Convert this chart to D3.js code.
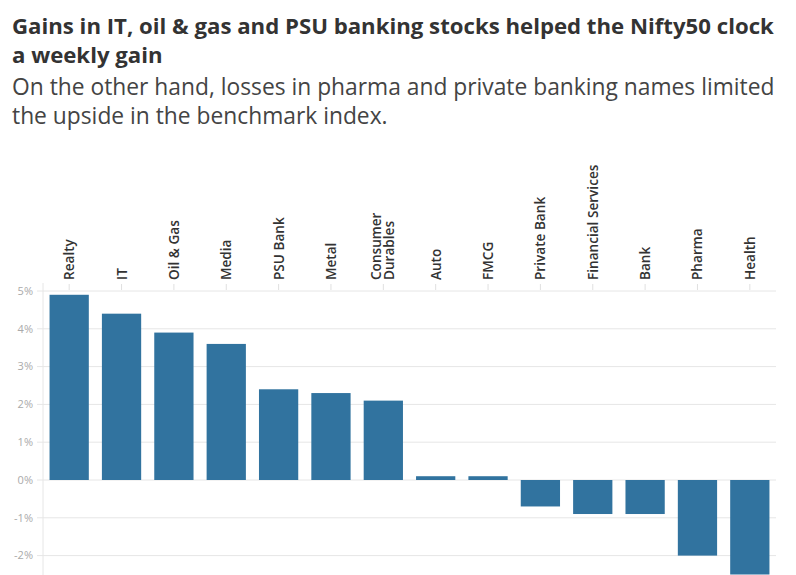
<!DOCTYPE html>
<html>
<head>
<meta charset="utf-8">
<script src="https://cdn.jsdelivr.net/npm/d3@7"></script>
<style>
  body { margin: 0; background: #fff; font-family: "Source Sans Pro", "Open Sans", sans-serif; }
</style>
</head>
<body>
<script>
var sectors = ['Realty', 'IT', 'Oil & Gas', 'Media', 'PSU Bank', 'Metal', 'Consumer Durables',
  'Auto', 'FMCG', 'Private Bank', 'Financial Services', 'Bank', 'Pharma', 'Health'];
var changes = [4.9, 4.4, 3.9, 3.6, 2.4, 2.3, 2.1, 0.1, 0.1, -0.7, -0.9, -0.9, -2.0, -2.5];
var yTicks = [-2, -1, 0, 1, 2, 3, 4, 5];
var titleLines = ['Gains in IT, oil & gas and PSU banking stocks helped the Nifty50 clock', 'a weekly gain'];
var subtitleLines = ['On the other hand, losses in pharma and private banking names limited', 'the upside in the benchmark index.'];

var width = 796, height = 575;
var svg = d3.select('body').append('svg')
  .attr('width', width)
  .attr('height', height);

// heading
svg.selectAll('text.title')
  .data(titleLines)
  .enter()
  .append('text')
  .attr('class', 'title')
  .attr('x', 12)
  .attr('y', function(d, i){ return 34 + i * 28.5; })
  .style('font-size', '22.2px')
  .style('font-weight', 'bold')
  .style('fill', '#333')
  .text(function(d){ return d; });

svg.selectAll('text.sub')
  .data(subtitleLines)
  .enter()
  .append('text')
  .attr('class', 'sub')
  .attr('x', 12)
  .attr('y', function(d, i){ return 95 + i * 29; })
  .style('font-size', '22.8px')
  .style('fill', '#444')
  .text(function(d){ return d; });

var plotLeft = 43, plotRight = 776, plotTop = 291, plotBottom = 575;
var g = svg.append('g');

var x = d3.scaleBand()
  .domain(sectors)
  .range([plotLeft, plotRight])
  .paddingInner(0.25)
  .paddingOuter(0.125);

var y = d3.scaleLinear()
  .domain([-2.5, 5])
  .range([574.5, plotTop]);

// gridlines + y labels
g.selectAll('line.grid')
  .data(yTicks)
  .enter()
  .append('line')
  .attr('class', 'grid')
  .attr('x1', plotLeft - 6)
  .attr('x2', plotRight)
  .attr('y1', function(d){ return y(d); })
  .attr('y2', function(d){ return y(d); })
  .style('stroke', '#e6e6e6')
  .style('stroke-width', 1);

g.selectAll('text.ylab')
  .data(yTicks)
  .enter()
  .append('text')
  .attr('class', 'ylab')
  .attr('x', plotLeft - 10)
  .attr('y', function(d){ return y(d); })
  .attr('dy', '0.35em')
  .attr('text-anchor', 'end')
  .style('font-size', '11px')
  .style('fill', '#aaa')
  .text(function(d){ return d + '%'; });

g.append('line')
  .attr('x1', plotLeft).attr('x2', plotLeft)
  .attr('y1', 283).attr('y2', plotBottom)
  .style('stroke', '#e6e6e6');

// bars
g.selectAll('rect.bar')
  .data(changes)
  .enter()
  .append('rect')
  .attr('class', 'bar')
  .attr('x', function(d, i){ return x(sectors[i]); })
  .attr('width', x.bandwidth())
  .attr('y', function(d){ return y(Math.max(0, d)); })
  .attr('height', function(d){ return Math.abs(y(d) - y(0)); })
  .style('fill', '#31739f');

// top category axis
var xAxis = g.append('g')
  .attr('transform', 'translate(0,' + 290 + ')')
  .call(d3.axisTop(x).tickSize(6).tickFormat(''));
xAxis.select('.domain').remove();
xAxis.selectAll('.tick text').remove();
xAxis.selectAll('.tick line').style('stroke', '#e0e0e0');

var labels = g.selectAll('text.cat')
  .data(sectors)
  .enter()
  .append('text')
  .attr('class', 'cat')
  .attr('transform', function(d){
    return 'translate(' + (x(d) + x.bandwidth() / 2) + ',280) rotate(-90)';
  })
  .style('font-size', '13.6px')
  .style('font-weight', '600')
  .style('fill', '#333');

labels.each(function(d){
  var words = d === 'Consumer Durables' ? ['Consumer', 'Durables'] : [d];
  var t = d3.select(this);
  words.forEach(function(w, i){
    t.append('tspan')
      .attr('x', 0)
      .attr('y', words.length > 1 ? -2 + i * 12.5 : 5)
      .text(w);
  });
});
</script>
</body>
</html>
